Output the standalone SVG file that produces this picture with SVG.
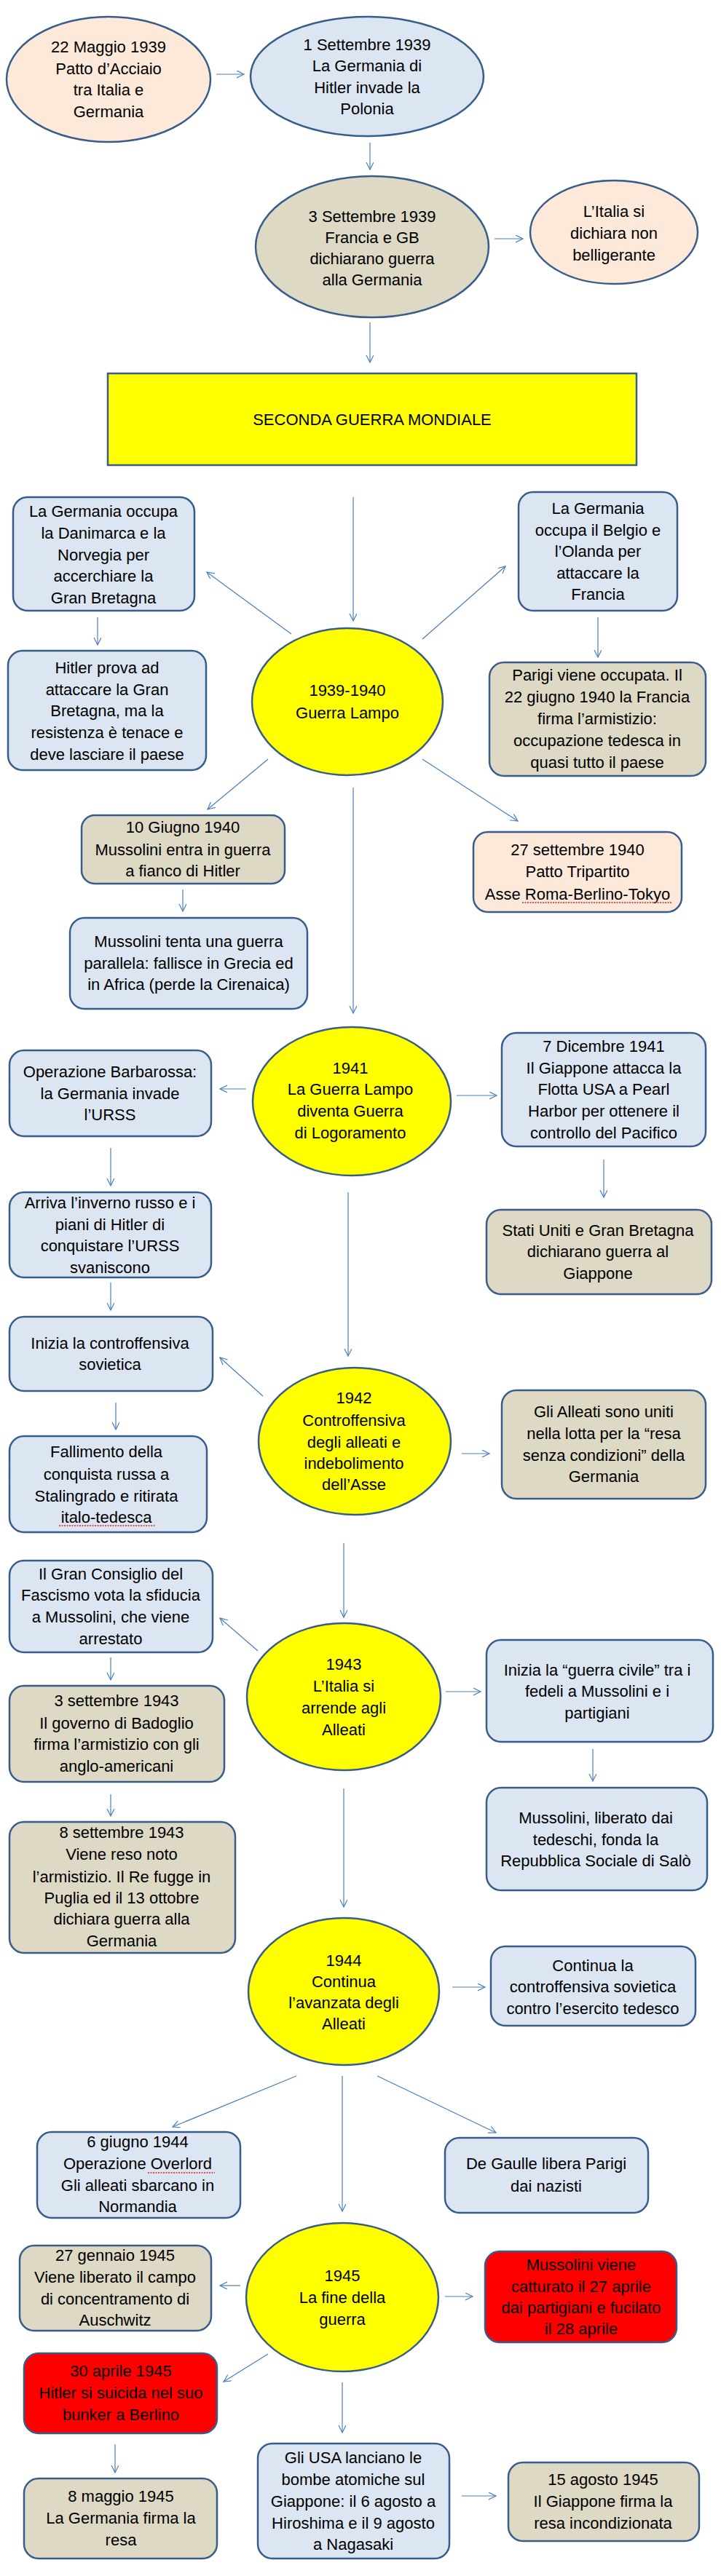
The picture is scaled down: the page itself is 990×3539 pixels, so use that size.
<svg xmlns="http://www.w3.org/2000/svg" width="990" height="3539" viewBox="0 0 990 3539">
<style>
.t{font-family:"Liberation Sans",Arial,sans-serif;font-size:22px;fill:#000;text-anchor:middle}
.peach{fill:#FDE9D9;stroke:#385D8A;stroke-width:2.5}
.blue{fill:#DCE6F2;stroke:#385D8A;stroke-width:2.5}
.tan{fill:#DDD9C4;stroke:#385D8A;stroke-width:2.5}
.yel{fill:#FFFF00;stroke:#385D8A;stroke-width:2.5}
.red{fill:#FF0000;stroke:#385D8A;stroke-width:2.5}
.c line{stroke:#4A7EBB;stroke-width:1.2;fill:none;marker-end:url(#ah)}
.sq{stroke:#E02020;stroke-width:1.3;fill:none;stroke-dasharray:2 1.5}
</style>
<defs>
<marker id="ah" markerUnits="userSpaceOnUse" markerWidth="12" markerHeight="12" refX="10" refY="5" orient="auto">
<path d="M0,0 L10,5 L0,10" fill="none" stroke="#4A7EBB" stroke-width="1.2"/>
</marker>
</defs>
<rect width="990" height="3539" fill="#fff"/>

<g class="c" id="connectors">
<line x1="297" y1="102" x2="335" y2="102"/>
<line x1="508" y1="196" x2="508" y2="233"/>
<line x1="679" y1="328" x2="718" y2="328"/>
<line x1="508" y1="443" x2="508" y2="498"/>
<line x1="485" y1="683" x2="485" y2="853"/>
<line x1="400" y1="871" x2="284" y2="786"/>
<line x1="580" y1="878" x2="694" y2="778"/>
<line x1="134" y1="848" x2="134" y2="886"/>
<line x1="821" y1="848" x2="821" y2="903"/>
<line x1="368" y1="1043" x2="285" y2="1112"/>
<line x1="580" y1="1043" x2="711" y2="1128"/>
<line x1="485" y1="1082" x2="485" y2="1392"/>
<line x1="251" y1="1222" x2="251" y2="1252"/>
<line x1="338" y1="1496" x2="302" y2="1496"/>
<line x1="627" y1="1505" x2="682" y2="1505"/>
<line x1="152" y1="1577" x2="152" y2="1629"/>
<line x1="829" y1="1593" x2="829" y2="1645"/>
<line x1="478" y1="1638" x2="478" y2="1863"/>
<line x1="152" y1="1762" x2="152" y2="1800"/>
<line x1="361" y1="1918" x2="302" y2="1865"/>
<line x1="159" y1="1927" x2="159" y2="1964"/>
<line x1="634" y1="1997" x2="672" y2="1997"/>
<line x1="472" y1="2120" x2="472" y2="2222"/>
<line x1="354" y1="2268" x2="302" y2="2223"/>
<line x1="152" y1="2277" x2="152" y2="2308"/>
<line x1="612" y1="2324" x2="660" y2="2324"/>
<line x1="814" y1="2403" x2="814" y2="2447"/>
<line x1="152" y1="2465" x2="152" y2="2495"/>
<line x1="472" y1="2457" x2="472" y2="2620"/>
<line x1="621" y1="2730" x2="666" y2="2730"/>
<line x1="407" y1="2852" x2="237" y2="2922"/>
<line x1="518" y1="2852" x2="681" y2="2930"/>
<line x1="470" y1="2852" x2="470" y2="3038"/>
<line x1="330" y1="3140" x2="302" y2="3140"/>
<line x1="611" y1="3155" x2="649" y2="3155"/>
<line x1="368" y1="3234" x2="307" y2="3272"/>
<line x1="470" y1="3273" x2="470" y2="3342"/>
<line x1="158" y1="3358" x2="158" y2="3397"/>
<line x1="634" y1="3429" x2="681" y2="3429"/>
</g>

<g id="n1"><ellipse class="peach" cx="149" cy="109" rx="140" ry="86"/>
<text class="t" x="149"><tspan x="149" y="72">22 Maggio 1939</tspan><tspan x="149" y="101.5">Patto d’Acciaio</tspan><tspan x="149" y="131">tra Italia e</tspan><tspan x="149" y="160.5">Germania</tspan></text></g>

<g id="n2"><ellipse class="blue" cx="504" cy="105" rx="160" ry="82"/>
<text class="t"><tspan x="504" y="69">1 Settembre 1939</tspan><tspan x="504" y="98">La Germania di</tspan><tspan x="504" y="128">Hitler invade la</tspan><tspan x="504" y="157">Polonia</tspan></text></g>

<g id="n3"><ellipse class="tan" cx="511" cy="339" rx="160" ry="97"/>
<text class="t"><tspan x="511" y="305">3 Settembre 1939</tspan><tspan x="511" y="334">Francia e GB</tspan><tspan x="511" y="363">dichiarano guerra</tspan><tspan x="511" y="392">alla Germania</tspan></text></g>

<g id="n4"><ellipse class="peach" cx="843" cy="319" rx="115" ry="71"/>
<text class="t"><tspan x="843" y="298">L’Italia si</tspan><tspan x="843" y="328">dichiara non</tspan><tspan x="843" y="358">belligerante</tspan></text></g>

<g id="n5"><rect class="yel" x="148" y="513" width="726" height="126"/>
<text class="t" x="511" y="584">SECONDA GUERRA MONDIALE</text></g>

<g id="n6"><rect class="blue" x="18" y="683" width="249" height="156" rx="20"/>
<text class="t"><tspan x="142" y="710">La Germania occupa</tspan><tspan x="142" y="740">la Danimarca e la</tspan><tspan x="142" y="770">Norvegia per</tspan><tspan x="142" y="799">accerchiare la</tspan><tspan x="142" y="829">Gran Bretagna</tspan></text></g>

<g id="n7"><rect class="blue" x="712" y="676" width="218" height="163" rx="20"/>
<text class="t"><tspan x="821" y="706">La Germania</tspan><tspan x="821" y="736">occupa il Belgio e</tspan><tspan x="821" y="765">l’Olanda per</tspan><tspan x="821" y="795">attaccare la</tspan><tspan x="821" y="824">Francia</tspan></text></g>

<g id="n8"><rect class="blue" x="11" y="894" width="272" height="164" rx="20"/>
<text class="t"><tspan x="147" y="925">Hitler prova ad</tspan><tspan x="147" y="955">attaccare la Gran</tspan><tspan x="147" y="984">Bretagna, ma la</tspan><tspan x="147" y="1014">resistenza è tenace e</tspan><tspan x="147" y="1044">deve lasciare il paese</tspan></text></g>

<g id="n9"><ellipse class="yel" cx="477" cy="964" rx="131" ry="101"/>
<text class="t"><tspan x="477" y="956">1939-1940</tspan><tspan x="477" y="987">Guerra Lampo</tspan></text></g>

<g id="n10"><rect class="tan" x="672" y="910" width="297" height="156" rx="20"/>
<text class="t"><tspan x="820" y="935">Parigi viene occupata. Il</tspan><tspan x="820" y="965">22 giugno 1940 la Francia</tspan><tspan x="820" y="995">firma l’armistizio:</tspan><tspan x="820" y="1025">occupazione tedesca in</tspan><tspan x="820" y="1055">quasi tutto il paese</tspan></text></g>

<g id="n11"><rect class="tan" x="112" y="1120" width="279" height="94" rx="18"/>
<text class="t"><tspan x="251" y="1144">10 Giugno 1940</tspan><tspan x="251" y="1175">Mussolini entra in guerra</tspan><tspan x="251" y="1204">a fianco di Hitler</tspan></text></g>

<g id="n12"><rect class="peach" x="650" y="1143" width="286" height="110" rx="20"/>
<text class="t"><tspan x="793" y="1175">27 settembre 1940</tspan><tspan x="793" y="1205">Patto Tripartito</tspan><tspan x="793" y="1236">Asse Roma-Berlino-Tokyo</tspan></text>
<line class="sq" x1="717" y1="1240" x2="922" y2="1240"/></g>

<g id="n13"><rect class="blue" x="96" y="1261" width="326" height="125" rx="20"/>
<text class="t"><tspan x="259" y="1301">Mussolini tenta una guerra</tspan><tspan x="259" y="1331">parallela: fallisce in Grecia ed</tspan><tspan x="259" y="1360">in Africa (perde la Cirenaica)</tspan></text></g>

<g id="n14"><ellipse class="yel" cx="483" cy="1513" rx="136" ry="102"/>
<text class="t"><tspan x="481" y="1475">1941</tspan><tspan x="481" y="1504">La Guerra Lampo</tspan><tspan x="481" y="1534">diventa Guerra</tspan><tspan x="481" y="1564">di Logoramento</tspan></text></g>

<g id="n15"><rect class="blue" x="13" y="1443" width="277" height="118" rx="20"/>
<text class="t"><tspan x="151" y="1480">Operazione Barbarossa:</tspan><tspan x="151" y="1510">la Germania invade</tspan><tspan x="151" y="1539">l’URSS</tspan></text></g>

<g id="n16"><rect class="blue" x="689" y="1419" width="280" height="156" rx="20"/>
<text class="t"><tspan x="829" y="1445">7 Dicembre 1941</tspan><tspan x="829" y="1475">Il Giappone attacca la</tspan><tspan x="829" y="1504">Flotta USA a Pearl</tspan><tspan x="829" y="1534">Harbor per ottenere il</tspan><tspan x="829" y="1564">controllo del Pacifico</tspan></text></g>

<g id="n17"><rect class="blue" x="13" y="1638" width="277" height="117" rx="20"/>
<text class="t"><tspan x="151" y="1660">Arriva l’inverno russo e i</tspan><tspan x="151" y="1690">piani di Hitler di</tspan><tspan x="151" y="1719">conquistare l’URSS</tspan><tspan x="151" y="1749">svaniscono</tspan></text></g>

<g id="n18"><rect class="tan" x="668" y="1662" width="309" height="116" rx="20"/>
<text class="t"><tspan x="821" y="1698">Stati Uniti e Gran Bretagna</tspan><tspan x="821" y="1727">dichiarano guerra al</tspan><tspan x="821" y="1757">Giappone</tspan></text></g>

<g id="n19"><rect class="blue" x="13" y="1809" width="279" height="102" rx="20"/>
<text class="t"><tspan x="151" y="1853">Inizia la controffensiva</tspan><tspan x="151" y="1882">sovietica</tspan></text></g>

<g id="n20"><rect class="blue" x="13" y="1973" width="271" height="132" rx="20"/>
<text class="t"><tspan x="146" y="2002">Fallimento della</tspan><tspan x="146" y="2033">conquista russa a</tspan><tspan x="146" y="2063">Stalingrado e ritirata</tspan><tspan x="146" y="2092">italo-tedesca</tspan></text>
<line class="sq" x1="81" y1="2096" x2="213" y2="2096"/></g>

<g id="n21"><ellipse class="yel" cx="487" cy="1980" rx="132" ry="101"/>
<text class="t"><tspan x="486" y="1928">1942</tspan><tspan x="486" y="1959">Controffensiva</tspan><tspan x="486" y="1989">degli alleati e</tspan><tspan x="486" y="2018">indebolimento</tspan><tspan x="486" y="2047">dell’Asse</tspan></text></g>

<g id="n22"><rect class="tan" x="689" y="1910" width="280" height="149" rx="20"/>
<text class="t"><tspan x="829" y="1947">Gli Alleati sono uniti</tspan><tspan x="829" y="1977">nella lotta per la “resa</tspan><tspan x="829" y="2007">senza condizioni” della</tspan><tspan x="829" y="2036">Germania</tspan></text></g>

<g id="n23"><rect class="blue" x="13" y="2144" width="279" height="126" rx="20"/>
<text class="t"><tspan x="152" y="2170">Il Gran Consiglio del</tspan><tspan x="152" y="2199">Fascismo vota la sfiducia</tspan><tspan x="152" y="2229">a Mussolini, che viene</tspan><tspan x="152" y="2259">arrestato</tspan></text></g>

<g id="n24"><ellipse class="yel" cx="472" cy="2331" rx="133" ry="101"/>
<text class="t"><tspan x="472" y="2294">1943</tspan><tspan x="472" y="2324">L’Italia si</tspan><tspan x="472" y="2354">arrende agli</tspan><tspan x="472" y="2384">Alleati</tspan></text></g>

<g id="n25"><rect class="blue" x="668" y="2253" width="311" height="140" rx="20"/>
<text class="t"><tspan x="820" y="2302">Inizia la “guerra civile” tra i</tspan><tspan x="820" y="2331">fedeli a Mussolini e i</tspan><tspan x="820" y="2361">partigiani</tspan></text></g>

<g id="n26"><rect class="tan" x="13" y="2316" width="295" height="132" rx="20"/>
<text class="t"><tspan x="160" y="2344">3 settembre 1943</tspan><tspan x="160" y="2375">Il governo di Badoglio</tspan><tspan x="160" y="2404">firma l’armistizio con gli</tspan><tspan x="160" y="2434">anglo-americani</tspan></text></g>

<g id="n27"><rect class="blue" x="668" y="2456" width="303" height="141" rx="20"/>
<text class="t"><tspan x="818" y="2505">Mussolini, liberato dai</tspan><tspan x="818" y="2535">tedeschi, fonda la</tspan><tspan x="818" y="2564">Repubblica Sociale di Salò</tspan></text></g>

<g id="n28"><rect class="tan" x="13" y="2503" width="310" height="180" rx="20"/>
<text class="t"><tspan x="167" y="2525">8 settembre 1943</tspan><tspan x="167" y="2555">Viene reso noto</tspan><tspan x="167" y="2586">l’armistizio. Il Re fugge in</tspan><tspan x="167" y="2615">Puglia ed il 13 ottobre</tspan><tspan x="167" y="2644">dichiara guerra alla</tspan><tspan x="167" y="2674">Germania</tspan></text></g>

<g id="n29"><ellipse class="yel" cx="472" cy="2736" rx="131" ry="101"/>
<text class="t"><tspan x="472" y="2701">1944</tspan><tspan x="472" y="2730">Continua</tspan><tspan x="472" y="2759">l’avanzata degli</tspan><tspan x="472" y="2788">Alleati</tspan></text></g>

<g id="n30"><rect class="blue" x="674" y="2674" width="281" height="109" rx="20"/>
<text class="t"><tspan x="814" y="2708">Continua la</tspan><tspan x="814" y="2737">controffensiva sovietica</tspan><tspan x="814" y="2767">contro l’esercito tedesco</tspan></text></g>

<g id="n31"><rect class="blue" x="51" y="2929" width="279" height="118" rx="20"/>
<text class="t"><tspan x="189" y="2950">6 giugno 1944</tspan><tspan x="189" y="2980">Operazione Overlord</tspan><tspan x="189" y="3010">Gli alleati sbarcano in</tspan><tspan x="189" y="3039">Normandia</tspan></text>
<line class="sq" x1="203" y1="2985" x2="295" y2="2985"/></g>

<g id="n32"><rect class="blue" x="611" y="2937" width="279" height="103" rx="20"/>
<text class="t"><tspan x="750" y="2980">De Gaulle libera Parigi</tspan><tspan x="750" y="3011">dai nazisti</tspan></text></g>

<g id="n33"><ellipse class="yel" cx="470" cy="3156" rx="132" ry="102"/>
<text class="t"><tspan x="470" y="3134">1945</tspan><tspan x="470" y="3164">La fine della</tspan><tspan x="470" y="3194">guerra</tspan></text></g>

<g id="n34"><rect class="tan" x="27" y="3085" width="263" height="117" rx="20"/>
<text class="t"><tspan x="158" y="3106">27 gennaio 1945</tspan><tspan x="158" y="3136">Viene liberato il campo</tspan><tspan x="158" y="3166">di concentramento di</tspan><tspan x="158" y="3195">Auschwitz</tspan></text></g>

<g id="n35"><rect class="red" x="666" y="3093" width="263" height="125" rx="20"/>
<text class="t"><tspan x="798" y="3119">Mussolini viene</tspan><tspan x="798" y="3149">catturato il 27 aprile</tspan><tspan x="798" y="3178">dai partigiani e fucilato</tspan><tspan x="798" y="3207">il 28 aprile</tspan></text></g>

<g id="n36"><rect class="red" x="33" y="3233" width="265" height="110" rx="20"/>
<text class="t"><tspan x="166" y="3265">30 aprile 1945</tspan><tspan x="166" y="3295">Hitler si suicida nel suo</tspan><tspan x="166" y="3325">bunker a Berlino</tspan></text></g>

<g id="n37"><rect class="tan" x="33" y="3405" width="265" height="110" rx="20"/>
<text class="t"><tspan x="166" y="3437">8 maggio 1945</tspan><tspan x="166" y="3467">La Germania firma la</tspan><tspan x="166" y="3497">resa</tspan></text></g>

<g id="n38"><rect class="blue" x="354" y="3357" width="263" height="158" rx="20"/>
<text class="t"><tspan x="485" y="3384">Gli USA lanciano le</tspan><tspan x="485" y="3414">bombe atomiche sul</tspan><tspan x="485" y="3444">Giappone: il 6 agosto a</tspan><tspan x="485" y="3474">Hiroshima e il 9 agosto</tspan><tspan x="485" y="3503">a Nagasaki</tspan></text></g>

<g id="n39"><rect class="tan" x="698" y="3383" width="262" height="108" rx="20"/>
<text class="t"><tspan x="828" y="3414">15 agosto 1945</tspan><tspan x="828" y="3444">Il Giappone firma la</tspan><tspan x="828" y="3474">resa incondizionata</tspan></text></g>
</svg>
